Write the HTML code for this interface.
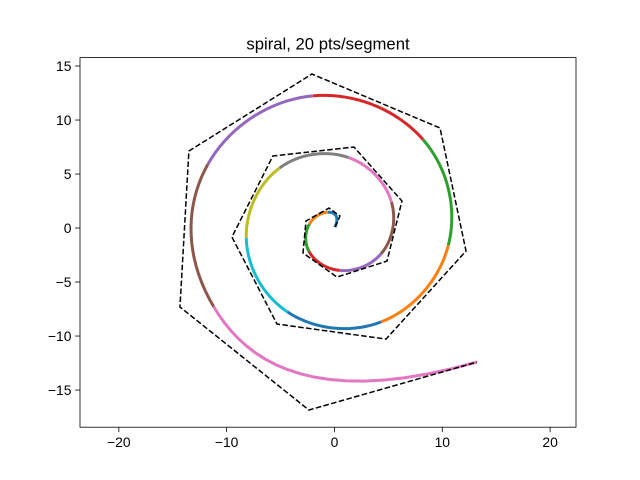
<!DOCTYPE html>
<html><head><meta charset="utf-8"><style>
body{margin:0;background:#fff}
svg{display:block;font-family:"Liberation Sans","DejaVu Sans",sans-serif}
</style></head><body>
<svg id="chart" width="640" height="480">
<rect width="640" height="480" fill="#fff"/>
<text x="328" y="49.5" text-anchor="middle" font-size="16.7">spiral, 20 pts/segment</text>
<g id="plot"></g>
</svg>
<script>
const ctrlX = [0.05,0.51,-0.51,-2.64,-2.92,0.23,4.87,6.26,1.81,-5.71,-9.51,-5.33,4.78,12.20,9.79,-2.09,-13.50,-14.33,-2.37,13.22];
const ctrlY = [0.09,1.11,1.85,0.65,-2.31,-4.54,-3.06,2.50,7.50,6.67,-0.83,-8.89,-10.28,-2.13,9.26,14.26,7.13,-7.31,-16.85,-12.41];
const xTicks = [-20,-10,0,10,20];
const yTicks = [-15,-10,-5,0,5,10,15];
const palette = ['#1f77b4','#ff7f0e','#2ca02c','#d62728','#9467bd','#8c564b','#e377c2','#7f7f7f','#bcbd22','#17becf'];
const ptsPerSeg = 20;

const L=80,R=576,T=57.6,B=427.2;
const xmin=-23.6,xmax=22.4,ymin=-18.44,ymax=15.78;
const sx=v=>L+(v-xmin)/(xmax-xmin)*(R-L);
const sy=v=>B-(v-ymin)/(ymax-ymin)*(B-T);
const NS='http://www.w3.org/2000/svg';
const g=document.getElementById('plot');
function mk(tag,attrs,parent){const e=document.createElementNS(NS,tag);for(const k in attrs)e.setAttribute(k,attrs[k]);(parent||g).appendChild(e);return e;}

const defs=mk('defs',{});const cp=mk('clipPath',{id:'clip'},defs);mk('rect',{x:L,y:T,width:R-L,height:B-T},cp);
const data=mk('g',{'clip-path':'url(#clip)'});

const n=ctrlX.length, p=3, nSpans=n-p;
const knots=[];
for(let i=0;i<=p;i++)knots.push(0);
for(let i=1;i<nSpans;i++)knots.push(i);
for(let i=0;i<=p;i++)knots.push(nSpans);
function deBoor(t,C){
  let k=p; while(k<n-1 && t>=knots[k+1])k++;
  const d=[];for(let j=0;j<=p;j++)d.push(C[j+k-p]);
  for(let r=1;r<=p;r++){
    for(let j=p;j>=r;j--){
      const i=j+k-p;
      const den=knots[i+p-r+1]-knots[i];
      const a=den===0?0:(t-knots[i])/den;
      d[j]=(1-a)*d[j-1]+a*d[j];
    }
  }
  return d[p];
}
for(let s=0;s<nSpans;s++){
  const pts=[];
  for(let k=0;k<ptsPerSeg;k++){
    let t=s+k/(ptsPerSeg-1);
    if(t>=nSpans)t=nSpans-1e-9;
    pts.push(sx(deBoor(t,ctrlX)).toFixed(2)+','+sy(deBoor(t,ctrlY)).toFixed(2));
  }
  const seg=mk('polyline',{points:pts.join(' '),fill:'none',stroke:palette[s%10],'stroke-width':3},data);
  
  
}
const poly=mk('polyline',{points:ctrlX.map((x,i)=>sx(x).toFixed(2)+','+sy(ctrlY[i]).toFixed(2)).join(' '),fill:'none',stroke:'#000','stroke-width':1.5,'stroke-dasharray':'5.55,2.4'},data);



const frame=mk('rect',{x:L,y:T,width:R-L,height:B-T,fill:'none',stroke:'#000','stroke-width':0.8});


xTicks.forEach(v=>{
  const x=sx(v);
  mk('line',{x1:x,x2:x,y1:B,y2:B+4.9,stroke:'#000','stroke-width':0.8});
  const t=mk('text',{x:x,y:B+20,'text-anchor':'middle','font-size':13.9});
  t.textContent=v<0?'\u2212'+Math.abs(v):v;
  
  
});
yTicks.forEach(v=>{
  const y=sy(v);
  mk('line',{x1:L-4.9,x2:L,y1:y,y2:y,stroke:'#000','stroke-width':0.8});
  const t=mk('text',{x:L-8.5,y:y+5,'text-anchor':'end','font-size':13.9});
  t.textContent=v<0?'\u2212'+Math.abs(v):v;
  
  
});
</script>
</body></html>
